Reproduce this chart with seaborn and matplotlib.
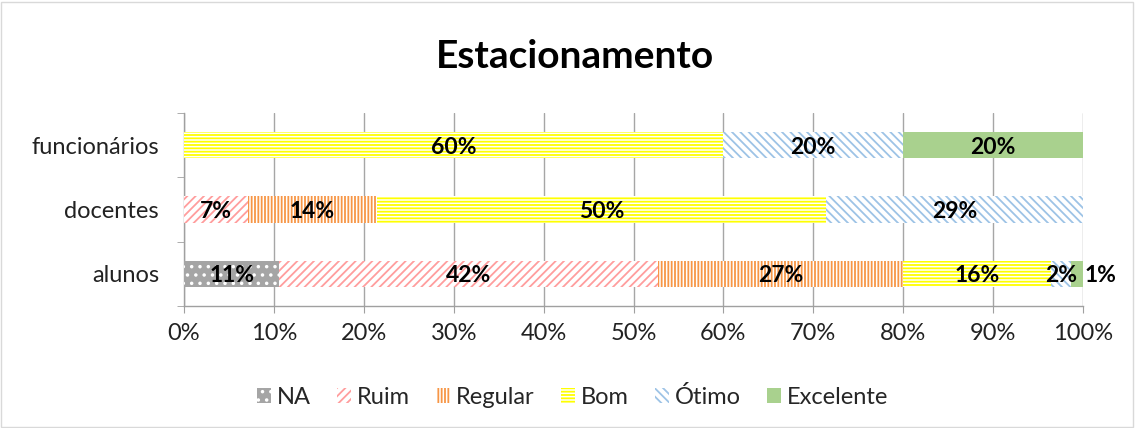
import matplotlib
matplotlib.use("Agg")
import matplotlib.pyplot as plt
from matplotlib.patches import Patch, Rectangle
import numpy as np
import pandas as pd
import seaborn as sns

categories = ["funcionários", "docentes", "alunos"]
series = ["NA", "Ruim", "Regular", "Bom", "Ótimo", "Excelente"]
na = [0.0, 0.0, 10.6]
ruim = [0.0, 7.14, 42.1]
regular = [0.0, 14.29, 27.3]
bom = [60.0, 50.0, 16.4]
otimo = [20.0, 28.57, 2.3]
excelente = [20.0, 0.0, 1.3]
xticklabels = ["0%", "10%", "20%", "30%", "40%", "50%", "60%", "70%", "80%", "90%", "100%"]

faces = ["#A5A5A5", "white", "white", "white", "white", "#A9D18E"]
hcols = ["white", "#FF9D9D", "#F79646", "#FFFF00", "#9DC3E6", "#A9D18E"]
hatches = ["..", "////", "|||||", "-----", "\\\\\\\\", ""]

sns.set_style("white")
plt.rcParams["font.family"] = ["Lato", "DejaVu Sans"]
plt.rcParams["hatch.linewidth"] = 1.3

fig = plt.figure(figsize=(11.36, 4.28), dpi=100)
ax = fig.add_axes([184 / 1136, 1 - 306 / 428, (1083 - 184) / 1136, (306 - 113) / 428])

vals = np.array([na, ruim, regular, bom, otimo, excelente])
cum = np.cumsum(vals, axis=0)
df = pd.DataFrame({"cat": categories})

# draw from the last (largest cumulative) to the first so each covers the previous
for i in range(len(series) - 1, -1, -1):
    df["v"] = cum[i]
    sns.barplot(data=df, x="v", y="cat", order=categories, orient="h",
                color=faces[i], saturation=1, edgecolor=hcols[i], hatch=hatches[i],
                linewidth=0, width=0.41, errorbar=None, ax=ax, zorder=3)

# labels
for i in range(len(series)):
    for j, c in enumerate(categories):
        v = vals[i, j]
        if v <= 0:
            continue
        start = cum[i, j] - v
        if v < 1.5:
            xpos = cum[i, j] + 2.0
        else:
            xpos = start + v / 2
        ax.text(xpos, j + 0.03, f"{v:.0f}%", ha="center", va="center", fontsize=16.5,
                fontweight="bold", color="black", zorder=5)

ax.set_xlim(0, 100)
ax.set_ylim(2.5, -0.5)
ax.set_xticks(np.arange(0, 101, 10))
ax.set_xticklabels(xticklabels, fontsize=17, color="#222222")
ax.tick_params(axis="y", labelsize=17, labelcolor="#222222", length=0, pad=18)
ax.set_yticks(np.arange(-0.5, 2.6, 1), minor=True)
ax.tick_params(axis="y", which="minor", length=5, color="#A0A0A0", direction="out", left=True)
ax.tick_params(axis="x", length=5, color="#A0A0A0", direction="out", bottom=True, pad=7)
ax.set_xlabel("")
ax.set_ylabel("")
ax.grid(axis="x", color="#A6A6A6", linewidth=1, zorder=0)
ax.set_axisbelow(True)
for s in ["top", "right"]:
    ax.spines[s].set_visible(False)
for s in ["left", "bottom"]:
    ax.spines[s].set_color("#A0A0A0")
    ax.spines[s].set_linewidth(1)

fig.text(0.506, 0.868, "Estacionamento", ha="center", va="center", fontsize=28,
         fontweight="bold", color="black")

handles = [Patch(facecolor=faces[i], edgecolor=hcols[i], hatch=hatches[i], linewidth=0, label=series[i])
           for i in range(len(series))]
fig.legend(handles=handles, loc="center", bbox_to_anchor=(0.504, 0.073), ncol=6, frameon=False,
           fontsize=17, handlelength=0.6, handleheight=0.6, handletextpad=0.25, columnspacing=1.1)

fig.patches.append(Rectangle((0.001, 0.003), 0.996, 0.992, transform=fig.transFigure, fill=False,
                             edgecolor="#D9D9D9", linewidth=1))

fig.savefig("out.png", dpi=100)
